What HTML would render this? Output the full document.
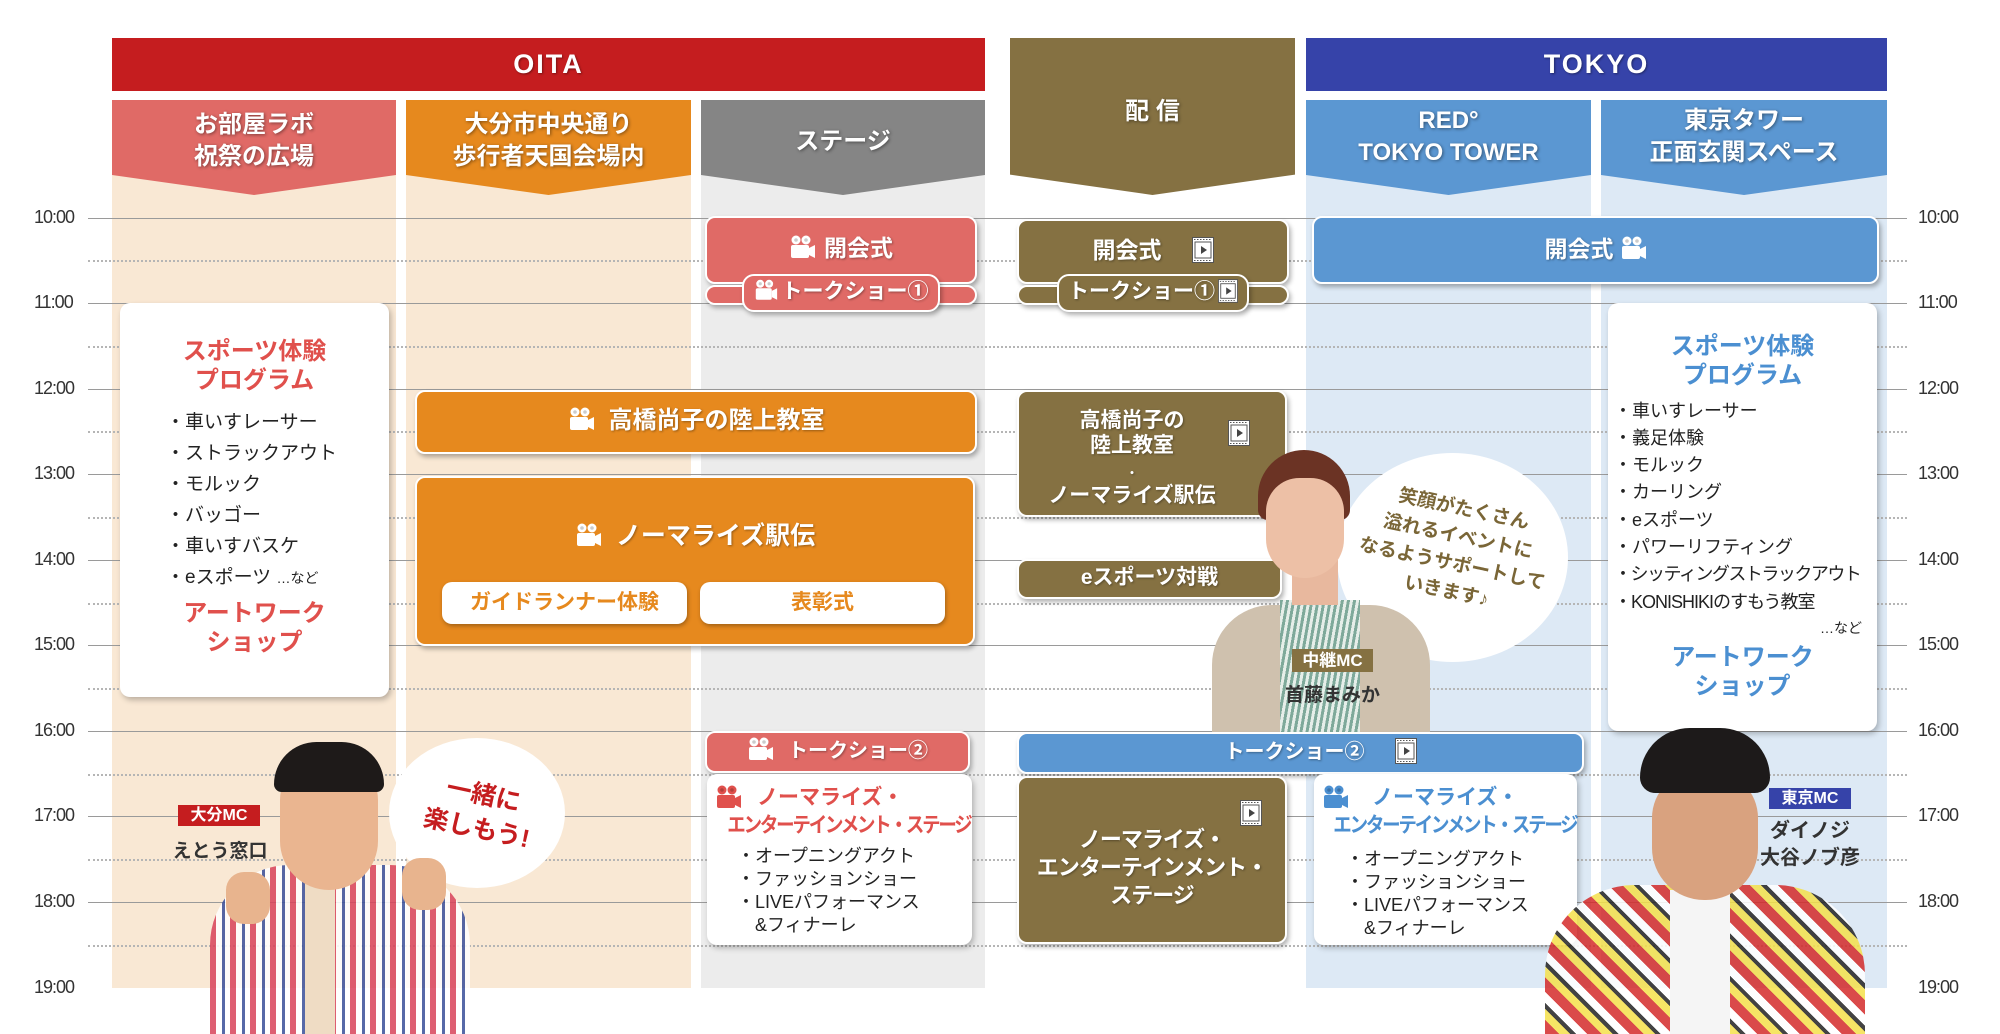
<!DOCTYPE html>
<html><head><meta charset="utf-8">
<style>
*{margin:0;padding:0;box-sizing:border-box}
body{width:2000px;height:1034px;background:#fff;position:relative;overflow:hidden;font-family:"Liberation Sans","Noto Sans CJK JP",sans-serif;}
.a{position:absolute}
.hl{position:absolute;left:88px;width:1819px;height:0;border-top:1.5px solid #9a9a9a}
.dl{position:absolute;left:88px;width:1819px;height:0;border-top:2px dotted #b5b5b5}
.tl{position:absolute;font-size:18px;color:#333;letter-spacing:-1px}
.bar{position:absolute;color:#fff;font-size:27px;font-weight:bold;text-align:center;letter-spacing:2px;text-shadow:1px 1px 2px rgba(0,0,0,.4)}
.hd{position:absolute;color:#fff;font-weight:bold;font-size:24px;text-align:center;line-height:32px;text-shadow:1px 1px 3px rgba(0,0,0,.45);clip-path:polygon(0 0,100% 0,100% 79%,50% 100%,0 79%)}
.bx{position:absolute;border-radius:10px;border:2px solid #fff;box-shadow:2px 3px 5px rgba(0,0,0,.3);color:#fff;font-weight:bold;text-align:center;text-shadow:1px 1px 2px rgba(0,0,0,.35)}
.wb{position:absolute;background:#fff;border-radius:10px;box-shadow:2px 3px 6px rgba(0,0,0,.25)}
.li{position:absolute;font-size:19px;color:#222;white-space:nowrap}
.ti{position:absolute;font-weight:bold;font-size:24px;text-align:center;line-height:29px;white-space:nowrap}
</style></head><body>

<div class="a" style="left:112px;top:150px;width:284px;height:838px;background:#f9e8d4"></div>
<div class="a" style="left:406px;top:150px;width:285px;height:838px;background:#f9e8d4"></div>
<div class="a" style="left:701px;top:150px;width:284px;height:838px;background:#ececec"></div>
<div class="a" style="left:1306px;top:150px;width:581px;height:838px;background:#dde9f5"></div>
<div class="a" style="left:1591px;top:150px;width:10px;height:838px;background:#fff"></div>

<div class="hl" style="top:218px"></div><div class="dl" style="top:260px"></div>
<div class="hl" style="top:303px"></div><div class="dl" style="top:346px"></div>
<div class="hl" style="top:389px"></div><div class="dl" style="top:431px"></div>
<div class="hl" style="top:474px"></div><div class="dl" style="top:517px"></div>
<div class="hl" style="top:560px"></div><div class="dl" style="top:603px"></div>
<div class="hl" style="top:645px"></div><div class="dl" style="top:688px"></div>
<div class="hl" style="top:731px"></div><div class="dl" style="top:774px"></div>
<div class="hl" style="top:816px"></div><div class="dl" style="top:859px"></div>
<div class="hl" style="top:902px"></div><div class="dl" style="top:945px"></div>

<div class="tl" style="left:34px;top:207px">10:00</div><div class="tl" style="left:1918px;top:207px">10:00</div>
<div class="tl" style="left:34px;top:292px">11:00</div><div class="tl" style="left:1918px;top:292px">11:00</div>
<div class="tl" style="left:34px;top:378px">12:00</div><div class="tl" style="left:1918px;top:378px">12:00</div>
<div class="tl" style="left:34px;top:463px">13:00</div><div class="tl" style="left:1918px;top:463px">13:00</div>
<div class="tl" style="left:34px;top:549px">14:00</div><div class="tl" style="left:1918px;top:549px">14:00</div>
<div class="tl" style="left:34px;top:634px">15:00</div><div class="tl" style="left:1918px;top:634px">15:00</div>
<div class="tl" style="left:34px;top:720px">16:00</div><div class="tl" style="left:1918px;top:720px">16:00</div>
<div class="tl" style="left:34px;top:805px">17:00</div><div class="tl" style="left:1918px;top:805px">17:00</div>
<div class="tl" style="left:34px;top:891px">18:00</div><div class="tl" style="left:1918px;top:891px">18:00</div>
<div class="tl" style="left:34px;top:977px">19:00</div><div class="tl" style="left:1918px;top:977px">19:00</div>

<div class="bar" style="left:112px;top:38px;width:873px;height:53px;line-height:53px;background:#c51d1f">OITA</div>
<div class="bar" style="left:1306px;top:38px;width:581px;height:53px;line-height:53px;background:#3643a9">TOKYO</div>

<div class="hd" style="left:112px;top:100px;width:284px;height:95px;background:#e06a66;padding-top:9px">お部屋ラボ<br>祝祭の広場</div>
<div class="hd" style="left:406px;top:100px;width:285px;height:95px;background:#e6891e;padding-top:9px">大分市中央通り<br>歩行者天国会場内</div>
<div class="hd" style="left:701px;top:100px;width:284px;height:95px;background:#858585;padding-top:26px">ステージ</div>
<div class="hd" style="left:1010px;top:38px;width:285px;height:157px;background:#857142;padding-top:58px;clip-path:polygon(0 0,100% 0,100% 87%,50% 100%,0 87%)">配 信</div>
<div class="hd" style="left:1306px;top:100px;width:285px;height:95px;background:#5b97d2;padding-top:5px">RED°<br>TOKYO TOWER</div>
<div class="hd" style="left:1601px;top:100px;width:286px;height:95px;background:#5b97d2;padding-top:5px">東京タワー<br>正面玄関スペース</div>

<svg width="0" height="0" style="position:absolute">
<defs>
<g id="cam"><circle cx="7" cy="5" r="4.5" fill="currentColor"/><circle cx="17" cy="5" r="4.5" fill="currentColor"/><circle cx="7" cy="5" r="1.8" fill="#0003"/><circle cx="17" cy="5" r="1.8" fill="#0003"/><rect x="2" y="10" width="18" height="13" rx="2" fill="currentColor"/><polygon points="20,13 26,10 26,23 20,20" fill="currentColor"/></g>
<g id="film"><rect x="0.5" y="0.5" width="21" height="25" fill="#fff" stroke="#555" stroke-width="1"/><rect x="3" y="5" width="16" height="16" fill="#fff" stroke="#555"/><polygon points="9,9 15,13 9,17" fill="#444"/><line x1="2" y1="2.5" x2="20" y2="2.5" stroke="#555" stroke-dasharray="1.5 1.5"/><line x1="2" y1="23.5" x2="20" y2="23.5" stroke="#555" stroke-dasharray="1.5 1.5"/></g>
</defs></svg>

<div class="bx" style="left:705px;top:216px;width:272px;height:68px;background:#e06a66;font-size:23px;line-height:60px"><svg width="27" height="24" style="color:#fff;vertical-align:-3px;margin-right:8px"><use href="#cam"/></svg>開会式</div>
<div class="bx" style="left:705px;top:285px;width:272px;height:20px;background:#e06a66;border-radius:10px"></div>
<div class="bx" style="left:742px;top:274px;width:198px;height:38px;background:#e06a66;font-size:21px;line-height:32px;border-radius:12px"><svg width="24" height="22" viewBox="0 0 27 24" style="color:#fff;vertical-align:-3px;margin-right:4px"><use href="#cam"/></svg>トークショー①</div>

<div class="bx" style="left:1017px;top:219px;width:272px;height:65px;background:#857142;font-size:23px;line-height:58px">開会式<svg width="22" height="26" style="vertical-align:-5px;margin-left:30px"><use href="#film"/></svg></div>
<div class="bx" style="left:1017px;top:285px;width:272px;height:20px;background:#857142"></div>
<div class="bx" style="left:1057px;top:274px;width:192px;height:38px;background:#857142;font-size:21px;line-height:32px;border-radius:12px">トークショー①<svg width="20" height="24" viewBox="0 0 22 26" style="vertical-align:-5px;margin-left:3px"><use href="#film"/></svg></div>

<div class="bx" style="left:1312px;top:216px;width:567px;height:68px;background:#5b97d2;font-size:23px;line-height:62px">開会式<svg width="27" height="24" style="color:#fff;vertical-align:-3px;margin-left:6px"><use href="#cam"/></svg></div>

<div class="wb" style="left:120px;top:303px;width:269px;height:394px"></div>
<div class="ti" style="left:120px;top:337px;width:269px;color:#e0504c">スポーツ体験<br>プログラム</div>
<div class="li" style="left:166px;top:407px">・車いすレーサー</div>
<div class="li" style="left:166px;top:438px">・ストラックアウト</div>
<div class="li" style="left:166px;top:469px">・モルック</div>
<div class="li" style="left:166px;top:500px">・バッゴー</div>
<div class="li" style="left:166px;top:531px">・車いすバスケ</div>
<div class="li" style="left:166px;top:562px">・eスポーツ <span style="font-size:14px">…など</span></div>
<div class="ti" style="left:120px;top:599px;width:269px;color:#e0504c">アートワーク<br>ショップ</div>

<div class="bx" style="left:415px;top:390px;width:562px;height:64px;background:#e6891e;font-size:24px;line-height:58px"><svg width="27" height="24" style="color:#fff;vertical-align:-3px;margin-right:14px"><use href="#cam"/></svg>高橋尚子の陸上教室</div>
<div class="bx" style="left:415px;top:476px;width:560px;height:170px;background:#e6891e;font-size:25px;line-height:26px;padding-top:45px"><svg width="27" height="24" style="color:#fff;vertical-align:-3px;margin-right:14px"><use href="#cam"/></svg>ノーマライズ駅伝</div>
<div class="a" style="left:442px;top:582px;width:245px;height:42px;background:#fff;border-radius:10px;box-shadow:1px 2px 4px rgba(0,0,0,.3);color:#e6891e;font-weight:bold;font-size:21px;text-align:center;line-height:42px">ガイドランナー体験</div>
<div class="a" style="left:700px;top:582px;width:245px;height:42px;background:#fff;border-radius:10px;box-shadow:1px 2px 4px rgba(0,0,0,.3);color:#e6891e;font-weight:bold;font-size:21px;text-align:center;line-height:42px">表彰式</div>

<div class="bx" style="left:1017px;top:390px;width:270px;height:127px;background:#857142;font-size:21px;line-height:25px;padding-top:16px;padding-right:40px">高橋尚子の<br>陸上教室<br><span style="font-size:12px;line-height:14px">・</span><br>ノーマライズ駅伝</div>
<svg class="a" style="left:1228px;top:420px" width="22" height="26"><use href="#film"/></svg>
<div class="bx" style="left:1017px;top:559px;width:265px;height:40px;background:#857142;font-size:21px;line-height:34px">eスポーツ対戦</div>

<div class="wb" style="left:1608px;top:303px;width:269px;height:428px"></div>
<div class="ti" style="left:1608px;top:332px;width:269px;color:#4b8fd1">スポーツ体験<br>プログラム</div>
<div class="li" style="left:1614px;top:397px;font-size:18px">・車いすレーサー</div>
<div class="li" style="left:1614px;top:424px;font-size:18px">・義足体験</div>
<div class="li" style="left:1614px;top:451px;font-size:18px">・モルック</div>
<div class="li" style="left:1614px;top:478px;font-size:18px">・カーリング</div>
<div class="li" style="left:1614px;top:506px;font-size:18px">・eスポーツ</div>
<div class="li" style="left:1614px;top:533px;font-size:18px">・パワーリフティング</div>
<div class="li" style="left:1614px;top:560px;font-size:18px;letter-spacing:-1.5px">・シッティングストラックアウト</div>
<div class="li" style="left:1614px;top:588px;font-size:18px;letter-spacing:-1px">・KONISHIKIのすもう教室</div>
<div class="li" style="left:1820px;top:618px;font-size:14px">…など</div>
<div class="ti" style="left:1608px;top:643px;width:269px;color:#4b8fd1">アートワーク<br>ショップ</div>

<div class="a" style="left:389px;top:738px;width:176px;height:150px;border-radius:50%;background:#fff"></div>
<div class="a" style="left:405px;top:778px;width:150px;font-size:25px;font-weight:bold;color:#c51d1f;text-align:center;line-height:34px;transform:rotate(12deg)">一緒に<br>楽しもう!</div>
<div class="a" style="left:1337px;top:453px;width:231px;height:209px;border-radius:50%;background:#fff"></div>
<div class="a" style="left:1350px;top:495px;width:210px;font-size:19px;font-weight:bold;color:#7a6637;text-align:center;line-height:28px;transform:rotate(12deg)">笑顔がたくさん<br>溢れるイベントに<br>なるようサポートして<br>いきます♪</div>

<div class="a" style="left:1212px;top:605px;width:218px;height:128px;background:#cfc1ae;border-radius:60px 60px 0 0"></div>
<div class="a" style="left:1280px;top:600px;width:80px;height:133px;background:repeating-linear-gradient(100deg,#7ea99a 0 3px,#e6eee9 3px 6px)"></div>
<div class="a" style="left:1292px;top:560px;width:46px;height:45px;background:#e8b89e"></div>
<div class="a" style="left:1258px;top:450px;width:92px;height:70px;background:#6b3324;border-radius:46px 46px 10px 10px"></div>
<div class="a" style="left:1266px;top:478px;width:78px;height:100px;background:#edc0a6;border-radius:36px 36px 42px 42px"></div>
<div class="a" style="left:1292px;top:649px;width:81px;height:23px;background:#857142;color:#fff;font-weight:bold;font-size:17px;text-align:center;line-height:23px">中継MC</div>
<div class="a" style="left:1270px;top:680px;width:125px;font-size:19px;font-weight:bold;color:#333;text-align:center">首藤まみか</div>

<div class="bx" style="left:705px;top:731px;width:265px;height:42px;background:#e06a66;font-size:20px;line-height:36px"><svg width="27" height="24" style="color:#fff;vertical-align:-4px;margin-right:14px"><use href="#cam"/></svg>トークショー②</div>
<div class="bx" style="left:1017px;top:732px;width:567px;height:42px;background:#5b97d2;font-size:20px;line-height:36px;padding-left:40px">トークショー②<svg width="22" height="26" style="vertical-align:-6px;margin-left:30px"><use href="#film"/></svg></div>

<div class="wb" style="left:707px;top:774px;width:265px;height:171px"></div>
<svg class="a" style="left:715px;top:785px;color:#e0504c" width="27" height="24"><use href="#cam"/></svg>
<div class="ti" style="left:757px;top:784px;color:#e0504c;font-size:21px;line-height:28px">ノーマライズ・</div>
<div class="ti" style="left:712px;top:812px;width:255px;color:#e0504c;font-size:21px;line-height:28px;letter-spacing:-2.5px;transform:scaleX(.88)">エンターテインメント・ステージ</div>
<div class="li" style="left:737px;top:845px;font-size:18px;line-height:23px">・オープニングアクト<br>・ファッションショー<br>・LIVEパフォーマンス<br>　&amp;フィナーレ</div>

<div class="bx" style="left:1017px;top:776px;width:270px;height:168px;background:#857142;font-size:22px;line-height:28px;padding-top:48px;letter-spacing:-1px">ノーマライズ・<br>エンターテインメント・<br>ステージ</div>
<svg class="a" style="left:1240px;top:800px" width="22" height="26"><use href="#film"/></svg>

<div class="wb" style="left:1314px;top:774px;width:263px;height:171px"></div>
<svg class="a" style="left:1322px;top:785px;color:#4b8fd1" width="27" height="24"><use href="#cam"/></svg>
<div class="ti" style="left:1372px;top:784px;color:#4b8fd1;font-size:21px;line-height:28px">ノーマライズ・</div>
<div class="ti" style="left:1318px;top:812px;width:255px;color:#4b8fd1;font-size:21px;line-height:28px;letter-spacing:-2.5px;transform:scaleX(.88)">エンターテインメント・ステージ</div>
<div class="li" style="left:1346px;top:848px;font-size:18px;line-height:23px">・オープニングアクト<br>・ファッションショー<br>・LIVEパフォーマンス<br>　&amp;フィナーレ</div>

<div class="a" style="left:210px;top:865px;width:260px;height:169px;border-radius:80px 80px 0 0;background:repeating-linear-gradient(90deg,#d9435a 0 6px,#fff 6px 12px,#3a4f9a 12px 15px,#fff 15px 20px),#fff;opacity:.85"></div>
<div class="a" style="left:305px;top:880px;width:30px;height:154px;background:#efdcc4"></div>
<div class="a" style="left:226px;top:872px;width:44px;height:52px;background:#e8b48e;border-radius:18px"></div>
<div class="a" style="left:402px;top:858px;width:44px;height:52px;background:#e8b48e;border-radius:18px"></div>
<div class="a" style="left:280px;top:755px;width:98px;height:135px;background:#eab590;border-radius:46px 46px 50px 50px"></div>
<div class="a" style="left:274px;top:742px;width:110px;height:50px;background:#1e1a19;border-radius:55px 55px 10px 10px"></div>
<div class="a" style="left:178px;top:805px;width:82px;height:21px;background:#c51d1f;color:#fff;font-weight:bold;font-size:16px;text-align:center;line-height:21px">大分MC</div>
<div class="a" style="left:160px;top:836px;width:120px;font-size:19px;font-weight:bold;color:#333;text-align:center">えとう窓口</div>

<div class="a" style="left:1545px;top:885px;width:320px;height:149px;border-radius:90px 90px 0 0;background:repeating-linear-gradient(45deg,#d32a2a 0 10px,#f4e04a 10px 18px,#222 18px 22px,#fff 22px 30px);opacity:.85"></div>
<div class="a" style="left:1670px;top:890px;width:60px;height:144px;background:#f5f5f5"></div>
<div class="a" style="left:1652px;top:770px;width:106px;height:130px;background:#d9a27f;border-radius:48px 48px 52px 52px"></div>
<div class="a" style="left:1640px;top:728px;width:130px;height:65px;background:#1d1a1a;border-radius:65px 65px 20px 20px"></div>
<div class="a" style="left:1769px;top:788px;width:82px;height:21px;background:#3643a9;color:#fff;font-weight:bold;font-size:16px;text-align:center;line-height:21px">東京MC</div>
<div class="a" style="left:1750px;top:818px;width:120px;font-size:20px;font-weight:bold;color:#333;text-align:center;line-height:27px">ダイノジ<br>大谷ノブ彦</div>

</body></html>
